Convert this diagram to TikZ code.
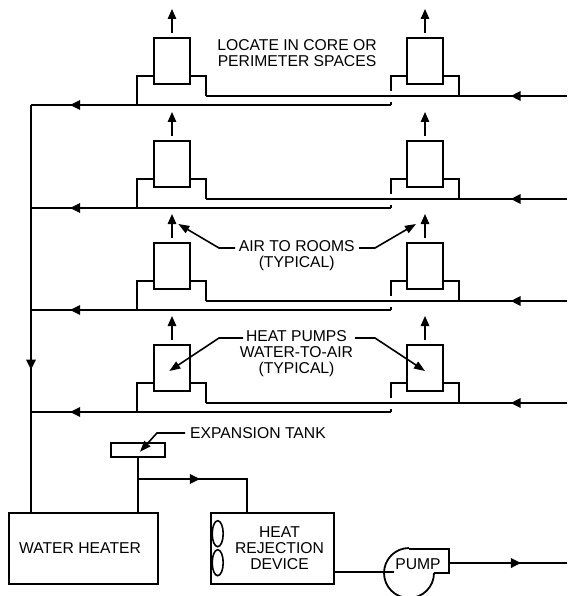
\documentclass[tikz,border=0pt]{standalone}
\usepackage{fontspec}
\setmainfont{Liberation Sans}
\usetikzlibrary{arrows.meta,decorations.markings,shapes.geometric}
\tikzset{
  pipe/.style={line width=1.8pt,line cap=butt,line join=miter},
  unitbox/.style={draw,line width=1.8pt,minimum width=36pt,minimum height=46pt,inner sep=0pt},
  equip/.style={draw,line width=1.8pt,inner sep=0pt},
  label/.style={inner sep=0pt,align=center,font=\fontsize{15.7}{16}\selectfont},
  leader/.style={line width=1.6pt,-{Triangle[length=11pt,width=8pt]}},
  airup/.style={line width=1.5pt,-{Triangle[length=10pt,width=8.5pt]}},
  flow/.style={postaction={decorate},decoration={markings,mark=at position #1 with {\arrow{Triangle[length=10pt,width=9.5pt]}}}}
}
\begin{document}
\begin{tikzpicture}[x=1pt,y=-1pt]
\useasboundingbox (0,0) rectangle (567,596);
\clip (0,0) rectangle (567,596);
% equipment
\node[equip,minimum width=149pt,minimum height=71pt] (wh) at (83.5,548.5) {};
\node[label] (whl) at (80,547.7) {WATER HEATER};
\node[equip,minimum width=123pt,minimum height=71pt] (hrd) at (272.5,548.5) {};
\node[label] (hrdl) at (279.5,548) {HEAT\\REJECTION\\DEVICE};
\node[equip,ellipse,line width=1.6pt,minimum width=11pt,minimum height=26pt] (fan1) at (217.7,533.7) {};
\node[equip,ellipse,line width=1.6pt,minimum width=11pt,minimum height=26pt] (fan2) at (217.7,562.7) {};
\node[equip,minimum width=54pt,minimum height=14pt] (tank) at (138,450) {};
\coordinate (ptop) at (409,549);
\coordinate (pr) at (449,549);
\coordinate (prb) at (449,573);
\coordinate (pcut) at (434,573);
\coordinate (pin) at (394,572);
\coordinate (pout) at (449,563);
\coordinate (outend) at (567,563);
\draw[pipe] (pcut) arc[start angle=0,end angle=-270,radius=25pt];
\draw[pipe] (ptop) -- (pr) -- (prb) -- (pcut);
\node[label] (pumpl) at (418,564) {PUMP};
% loop piping
\coordinate (tap) at (138,479);
\coordinate (hrdin) at (247,479);
\draw[pipe] (tank.south -| tap) -- (wh.north -| tap);
\draw[pipe,flow=0.436] (tap) -- (hrdin) -- (hrd.north -| hrdin);
\draw[pipe] (hrd.east |- pin) -- (pin);
\draw[pipe,flow=0.61] (pout) -- (outend);
% heat pump rows
\foreach \i/\d in {1/0,2/103,3/205,4/307}{
\begin{scope}[yshift=-\d pt]
  \node[unitbox] (L\i) at (172,61) {};
  \node[unitbox] (R\i) at (425,61) {};
  \coordinate (LA\i) at (137,76);
  \coordinate (LB\i) at (137,105);
  \coordinate (LC\i) at (206,76);
  \coordinate (LD\i) at (206,96);
  \coordinate (RA\i) at (391,76);
  \coordinate (RB\i) at (391,91);
  \coordinate (RC\i) at (391,102);
  \coordinate (RD\i) at (391,105);
  \coordinate (RE\i) at (459,76);
  \coordinate (RF\i) at (459,96);
  \coordinate (SE\i) at (567,96);
  \coordinate (MN\i) at (31,105);
  \coordinate (LT\i) at (172,33);
  \coordinate (LH\i) at (172,9);
  \coordinate (RT\i) at (425,33);
  \coordinate (RH\i) at (425,9);
  \draw[pipe] (L\i.west |- LA\i) -- (LA\i) -- (LB\i);
  \draw[pipe] (L\i.east |- LC\i) -- (LC\i) -- (LD\i);
  \draw[pipe] (R\i.west |- RA\i) -- (RA\i) -- (RB\i);
  \draw[pipe] (R\i.east |- RE\i) -- (RE\i) -- (RF\i);
  \draw[pipe] (RC\i) -- (RD\i);
  \draw[pipe,flow=0.156] (SE\i) -- (LD\i);
  \draw[pipe,flow=0.8915] (RD\i) -- (MN\i);
  \draw[airup] (LT\i) -- (LH\i);
  \draw[airup] (RT\i) -- (RH\i);
\end{scope}
}
\draw[pipe,flow=0.65] (MN1) -- (wh.north -| MN1);
% labels and leaders
\node[label] (loc) at (297,53) {LOCATE IN CORE OR\\PERIMETER SPACES};
\node[label,anchor=west] (exp) at (190,433.3) {EXPANSION TANK};
\coordinate (e0) at (185,433);
\coordinate (ek) at (157,433);
\coordinate (et) at (140,451.7);
\draw[leader] (e0) -- (ek) -- (et);
\node[label] (air) at (296.7,255.5) {AIR TO ROOMS\\(TYPICAL)};
\coordinate (a0) at (235,248);
\coordinate (a1) at (219,248);
\coordinate (a2) at (178.3,224);
\coordinate (a3) at (359,248);
\coordinate (a4) at (375,248);
\coordinate (a5) at (416,224);
\draw[leader] (a0) -- (a1) -- (a2);
\draw[leader] (a3) -- (a4) -- (a5);
\node[label] (hp) at (296.5,354) {HEAT PUMPS\\WATER-TO-AIR\\(TYPICAL)};
\coordinate (h0) at (243,338);
\coordinate (h1) at (219,338);
\coordinate (h2) at (169.3,371);
\coordinate (h3) at (355,338);
\coordinate (h4) at (375,338);
\coordinate (h5) at (425,371);
\draw[leader] (h0) -- (h1) -- (h2);
\draw[leader] (h3) -- (h4) -- (h5);
\end{tikzpicture}
\end{document}
